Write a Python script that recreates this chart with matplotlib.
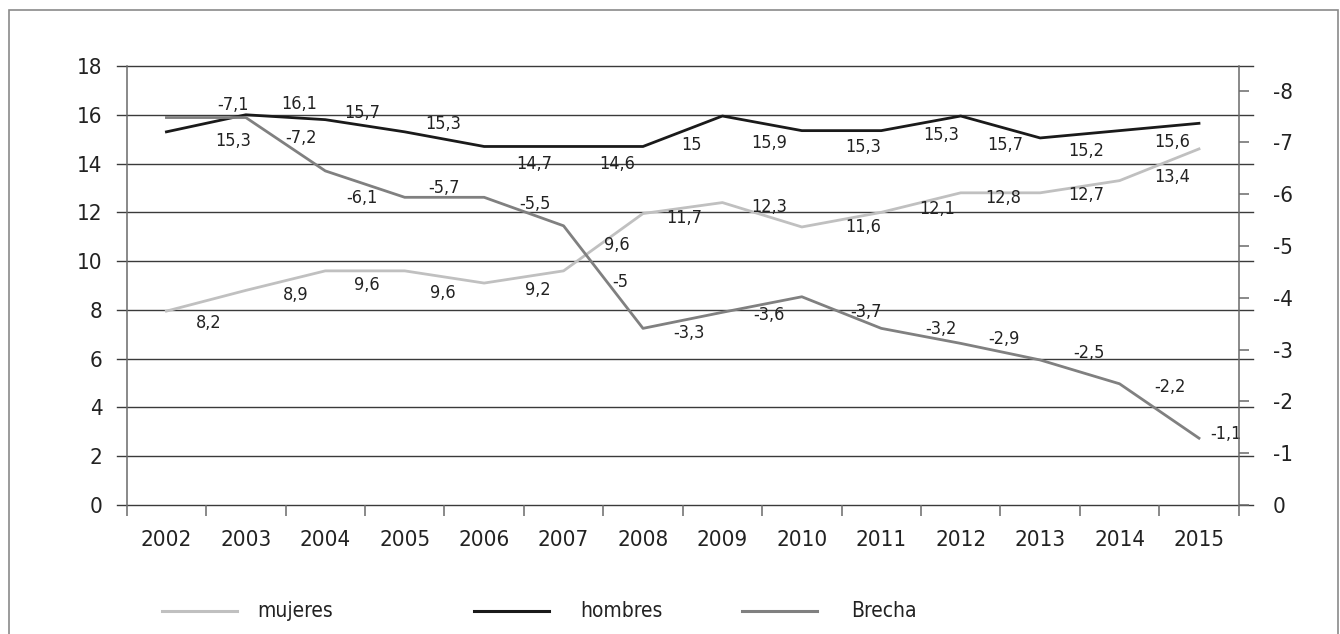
import numpy as np
import matplotlib
matplotlib.use("Agg")
import matplotlib.pyplot as plt
from matplotlib.lines import Line2D
from matplotlib.patches import Rectangle
from matplotlib.transforms import blended_transform_factory

plt.rcParams['font.family'] = ['DejaVu Sans']
plt.rcParams['font.stretch'] = 'condensed'

# years on the x axis
years = ['2002', '2003', '2004', '2005', '2006', '2007', '2008',
         '2009', '2010', '2011', '2012', '2013', '2014', '2015']

# lines as drawn in the picture (left axis for mujeres / hombres, right axis for brecha)
mujeres_line = [7.95, 8.8, 9.6, 9.6, 9.1, 9.6, 11.95, 12.4, 11.4, 12.0, 12.8, 12.8, 13.3, 14.6]
hombres_line = [15.3, 16.0, 15.8, 15.3, 14.7, 14.7, 14.7, 15.95, 15.35, 15.35, 15.95, 15.05, 15.35, 15.65]
brecha_line = [-7.48, -7.48, -6.45, -5.94, -5.94, -5.39, -3.41, -3.72, -4.02, -3.41, -3.12, -2.80, -2.34, -1.29]

# data labels printed on the chart
mujeres_lbl = ['8,2', '8,9', '9,6', '9,6', '9,2', '9,6', '11,7', '12,3', '11,6', '12,1', '12,8', '12,7', '13,4']
hombres_lbl = ['15,3', '16,1', '15,7', '15,3', '14,7', '14,6', '15', '15,9', '15,3', '15,3', '15,7', '15,2', '15,6']
brecha_lbl = ['-7,1', '-7,2', '-6,1', '-5,7', '-5,5', '-5', '-3,3', '-3,6', '-3,7', '-3,2', '-2,9', '-2,5', '-2,2', '-1,1']

# where the labels sit (x in category units, y in left-axis units)
mujeres_pos = [(0.53, 7.47), (1.63, 8.61), (2.52, 9.02), (3.48, 8.70), (4.68, 8.82), (5.67, 10.66),
               (6.52, 11.75), (7.59, 12.21), (8.77, 11.41), (9.70, 12.12), (10.53, 12.57),
               (11.58, 12.71), (12.66, 13.44)]
hombres_pos = [(0.84, 14.92), (1.67, 16.43), (2.46, 16.06), (3.49, 15.62), (4.63, 13.98), (5.67, 13.98),
               (6.61, 14.76), (7.59, 14.85), (8.77, 14.67), (9.75, 15.17), (10.56, 14.76),
               (11.58, 14.53), (12.66, 14.90)]
brecha_pos = [(0.84, 16.40), (1.70, 15.04), (2.46, 12.57), (3.49, 12.98), (4.64, 12.34), (5.72, 9.16),
              (6.58, 7.04), (7.58, 7.79), (8.81, 7.93), (9.75, 7.22), (10.54, 6.79),
              (11.62, 6.22), (12.63, 4.85), (13.34, 2.90)]

c_muj = '#c0c0c0'
c_hom = '#1a1a1a'
c_bre = '#808080'
c_grid = '#3a3a3a'
c_axis = '#6a6a6a'
c_text = '#222222'

W, H = 1340, 634
fig = plt.figure(figsize=(W / 100, H / 100), dpi=100)
ax = fig.add_axes([126.7 / W, 1 - 505 / H, (1238.7 - 126.7) / W, (505 - 66) / H])
ax2 = ax.twinx()

x = np.arange(len(years))
ax.set_xlim(-0.5, len(years) - 0.5)
ax.set_ylim(0, 18)
ax2.set_ylim(0, -8.475)

# gridlines reaching a little past both axes
trans = blended_transform_factory(ax.transAxes, ax.transData)
for v in range(0, 19, 2):
    ax.plot([-10 / 1112, 1 + 14.3 / 1112], [v, v], transform=trans, color=c_grid,
            lw=1.0, clip_on=False, zorder=1)

ax.plot(x, mujeres_line, color=c_muj, lw=2.0, zorder=3, clip_on=False)
ax.plot(x, hombres_line, color=c_hom, lw=2.0, zorder=4, clip_on=False)
ax2.plot(x, brecha_line, color=c_bre, lw=2.0, zorder=3, clip_on=False)

lbl_kw = dict(ha='center', va='center', fontsize=13, color=c_text, zorder=6)
for t, (px, py) in zip(mujeres_lbl, mujeres_pos):
    ax.text(px, py, t, **lbl_kw)
for t, (px, py) in zip(hombres_lbl, hombres_pos):
    ax.text(px, py, t, **lbl_kw)
for t, (px, py) in zip(brecha_lbl, brecha_pos):
    ax.text(px, py, t, **lbl_kw)

# axes styling
for a in (ax, ax2):
    for s in ('top', 'bottom'):
        a.spines[s].set_visible(False)
ax.spines['right'].set_visible(False)
ax2.spines['left'].set_visible(False)
ax.spines['left'].set_color(c_axis)
ax2.spines['right'].set_color(c_axis)
ax.spines['left'].set_linewidth(1.1)
ax2.spines['right'].set_linewidth(1.1)

ax.set_yticks(range(0, 19, 2))
ax.tick_params(axis='y', length=0, pad=17.3, labelsize=16, labelcolor=c_text)

ax2.set_yticks(range(0, -9, -1))
ax2.set_yticklabels([str(v) for v in range(0, -9, -1)])
ax2.tick_params(axis='y', direction='out', length=7.4, width=1.1, color=c_axis,
                pad=17.0, labelsize=16, labelcolor=c_text)

ax.set_xticks(x)
ax.set_xticklabels(years)
ax.set_xticks(np.arange(-0.5, len(years), 1.0), minor=True)
ax.tick_params(axis='x', which='major', length=0, pad=18, labelsize=16, labelcolor=c_text)
ax.tick_params(axis='x', which='minor', direction='out', length=7.8, width=1.1, color=c_axis)
ax2.tick_params(axis='x', length=0)

# legend drawn by hand in figure pixels
leg_y = 1 - 611 / H
leg = [(161.7, 237.3, 257, 'mujeres', c_muj),
       (474.0, 549.0, 580, 'hombres', c_hom),
       (742.0, 817.5, 851, 'Brecha', c_bre)]
for x0, x1, tx, name, col in leg:
    fig.add_artist(Line2D([x0 / W, x1 / W], [leg_y, leg_y], color=col, lw=2.2))
    fig.text(tx / W, leg_y, name, ha='left', va='center', fontsize=15, color=c_text)

# outer frame (bottom edge runs off the image)
fig.add_artist(Rectangle((9 / W, -0.05), (1337.5 - 9) / W, 1.05 - 10 / H,
                         transform=fig.transFigure, fill=False, edgecolor='#8a8a8a', lw=1.2))

fig.savefig('out.png', dpi=100)
